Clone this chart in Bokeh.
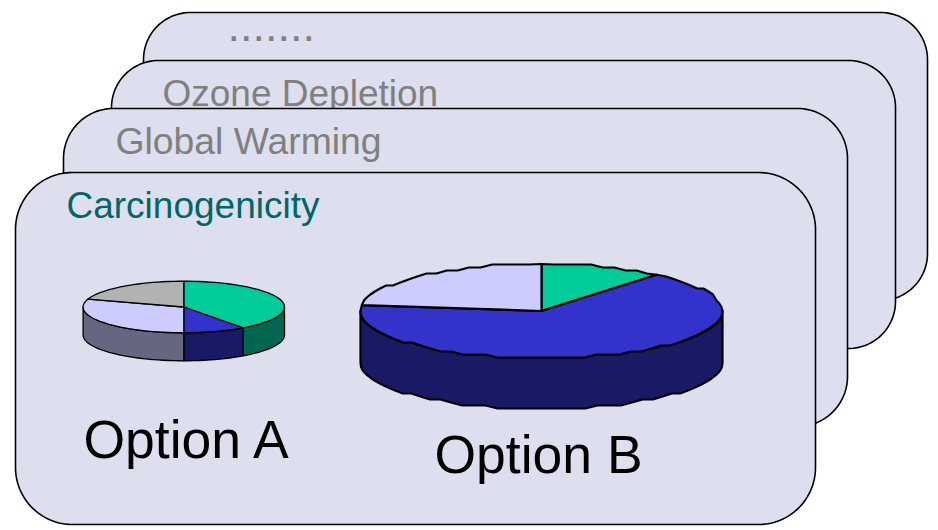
import numpy as np
from bokeh.plotting import figure
from bokeh.models import Range1d
from bokeh.core.properties import value
from bokeh.embed import file_html
from bokeh.resources import INLINE

# Impact categories, back to front, and their text colours
categories = [".......", "Ozone Depletion", "Global Warming", "Carcinogenicity"]
category_colors = ["#808080", "#808080", "#808080", "#006666"]

# Pie shares in percent, clockwise from twelve o'clock
option_a_shares = [40, 10, 30, 20]
option_a_top = ["#00CC99", "#3333CC", "#CCCCFF", "#B2B2B2"]
option_a_side = ["#006650", "#191966", "#666680", "#59595F"]

option_b_shares = [11, 66, 23]
option_b_top = ["#00CC99", "#3333CC", "#CCCCFF"]
option_b_side = ["#006650", "#191966", "#666680"]

CARD_FILL = "#DDDEEE"
BASELINE_SHIFT = 0.38  # the SVG text anchor sits this many em above the drawn baseline
# left, right, top, bottom, corner radius, label x, label baseline, label size
CARDS = [
    (143, 927, 12, 300, 47, 227, 42, 45),
    (111, 895, 60, 348, 47, 162, 107, 37),
    (63, 847, 108, 426, 50, 115, 155, 37.3),
    (15, 815, 172, 524, 57, 66, 219, 37),
]

p = figure(width=938, height=530, output_backend="svg", toolbar_location=None,
           x_range=Range1d(0, 938), y_range=Range1d(530, 0),
           min_border=0, outline_line_color=None, background_fill_color="white",
           border_fill_color="white")
p.axis.visible = False
p.grid.visible = False


def rounded_card(left, right, top, bottom, r):
    xs, ys = [], []
    corners = [(right - r, top + r, -90, 0), (right - r, bottom - r, 0, 90),
               (left + r, bottom - r, 90, 180), (left + r, top + r, 180, 270)]
    for cx, cy, a0, a1 in corners:
        a = np.radians(np.linspace(a0, a1, 30))
        xs.extend(cx + r * np.cos(a))
        ys.extend(cy + r * np.sin(a))
    return xs, ys


def rim(cx, cy, rx, ry, t0, t1, step, snap_y):
    """Points of an elliptical rim between two clockwise angles from the top."""
    n = max(2, int(np.ceil((t1 - t0) / step)) + 1)
    t = np.radians(np.linspace(t0, t1, n))
    x = cx + rx * np.sin(t)
    y = cy - ry * np.cos(t)
    if snap_y:
        y[1:-1] = np.round(y[1:-1] / snap_y) * snap_y
    return x, y


def draw_pie(shares, tops, sides, cx, cy, rx, ry, depth, lw, step, snap_y=0):
    bounds = np.concatenate([[0], np.cumsum(shares)]) * 360.0 / sum(shares)
    # Side walls: only the front half of the rim is visible
    for i, side in enumerate(sides):
        t0, t1 = max(bounds[i], 90), min(bounds[i + 1], 270)
        if t1 <= t0:
            continue
        x, y = rim(cx, cy, rx, ry, t0, t1, step, snap_y)
        p.patch(list(x) + list(x[::-1]), list(y) + list(y[::-1] + depth),
                fill_color=side, line_color="black", line_width=lw, line_join="round")
    # Top face
    for i, top in enumerate(tops):
        x, y = rim(cx, cy, rx, ry, bounds[i], bounds[i + 1], step, snap_y)
        p.patch([cx] + list(x), [cy] + list(y), fill_color=top,
                line_color="black", line_width=lw, line_join="round")


for card, label, color in zip(CARDS, categories, category_colors):
    left, right, top, bottom, r, lx, ly, size = card
    # Each label is covered in part by the next card of the stack
    xs, ys = rounded_card(left, right, top, bottom, r)
    p.patch(xs, ys, fill_color=CARD_FILL, line_color="black", line_width=1.6)
    p.text([lx], [ly - BASELINE_SHIFT * size], text=[label], text_color=color,
           text_font=value("Liberation Sans"), text_font_size=f"{size}px",
           text_baseline="alphabetic", text_align="left")

draw_pie(option_a_shares, option_a_top, option_a_side, 183.3, 306.5, 100.7, 25.8, 28, 1.3, 3)
draw_pie(option_b_shares, option_b_top, option_b_side, 541, 310.5, 181, 47, 51, 2.2, 4, 3)

OPTION_SIZE = 53.5
p.text([83, 434], [459 - BASELINE_SHIFT * OPTION_SIZE, 474 - BASELINE_SHIFT * OPTION_SIZE],
       text=["Option A", "Option B"], text_color="black",
       text_font=value("Liberation Sans"), text_font_size=f"{OPTION_SIZE}px",
       text_baseline="alphabetic", text_align="left")

open("out.html", "w").write(file_html(p, INLINE))
